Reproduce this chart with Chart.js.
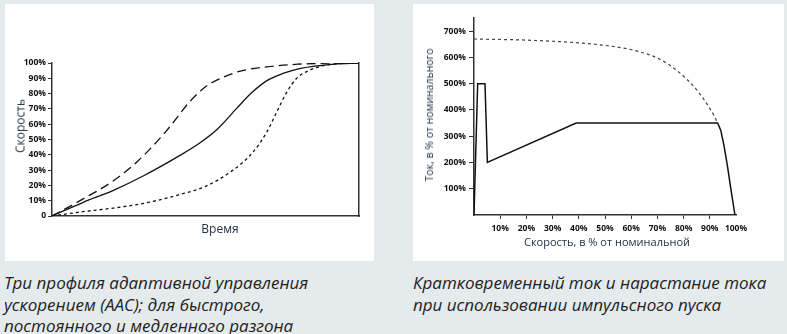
<!DOCTYPE html>
<html>
<head>
<meta charset="utf-8">
<script src="https://cdn.jsdelivr.net/npm/chart.js@4"></script>
<style>
  body { margin: 0; background: #e5eaed; }
  #page { position: relative; width: 787px; height: 334px; overflow: hidden; font-family: "Open Sans", sans-serif; }
  .panel { position: absolute; background: #fff; }
  .panel canvas { position: absolute; left: 0; top: 0; }
  .title { position: absolute; white-space: nowrap; color: #22324a; transform: translate(-50%, -50%); }
  .title.rot { transform: translate(-50%, -50%) rotate(-90deg); }
  .caption { position: absolute; font-family: "Liberation Sans Narrow", "Open Sans", sans-serif; font-style: italic;
             font-size: 17px; line-height: 21.5px; color: #222; }
</style>
</head>
<body>
<div id="page">
  <div class="panel" style="left:5px;top:4px;width:369px;height:257px"><canvas id="accel" width="369" height="257"></canvas></div>
  <div class="panel" style="left:413px;top:4px;width:371px;height:257px"><canvas id="pulse" width="371" height="257"></canvas></div>

  <div class="title rot" style="left:20px;top:126px;font-size:12px">Скорость</div>
  <div class="title" style="left:220px;top:228px;font-size:12px">Время</div>
  <div class="title rot" style="left:429px;top:115px;font-size:10.5px">Ток, в % от номинального</div>
  <div class="title" style="left:607px;top:241px;font-size:11px">Скорость, в % от номинальной</div>

  <div class="caption" style="left:4px;top:272px">Три профиля адаптивной управления<br>ускорением (AAC); для быстрого,<br>постоянного и медленного разгона</div>
  <div class="caption" style="left:413px;top:272px">Кратковременный ток и нарастание тока<br>при использовании импульсного пуска</div>
</div>
<script>
// профили разгона: время (% от полного) и скорость (%)
const fastTime = [0, 10, 20, 28, 37, 45, 50, 55, 61, 70, 80, 91, 100]
const fastSpeed = [0, 11, 23, 36, 55, 75, 84.5, 90, 94.5, 97.5, 99.2, 99.9, 100]
const midTime = [0, 10, 20, 30, 41, 48, 54, 60, 65, 70, 75, 81, 92, 100]
const midSpeed = [0, 8.8, 16.8, 26.5, 38.8, 47.5, 57, 70, 80.5, 88.5, 93, 96.5, 99.3, 100]
const slowTime = [0, 10, 20, 30, 41, 50, 59, 65.6, 70, 73.2, 76.5, 79.7, 84, 89.5, 95, 100]
const slowSpeed = [0, 2.8, 5.2, 8.3, 13.7, 19.4, 30, 42, 55, 68, 81, 90, 95.4, 98.7, 99.8, 100]
const speedTicks = [0, 10, 20, 30, 40, 50, 60, 70, 80, 90, 100]

// импульсный пуск: скорость (%) и ток (% от номинального)
const pulseSpeed = [0, 1.4, 4.2, 5.1, 39, 93, 94.2, 95.4, 96.7, 98, 99.6]
const pulseCurrent = [0, 500, 500, 200, 350, 350, 322, 265, 189, 101, 0]
const limitSpeed = [0, 22, 48, 60.6, 70.7, 78.3, 84.7, 88.5, 91.6, 93]
const limitCurrent = [670, 665, 648, 628, 594, 543, 480, 429, 379, 350]
const currentTicks = [100, 200, 300, 400, 500, 600, 700]
const pulseSpeedTicks = [10, 20, 30, 40, 50, 60, 70, 80, 90, 100]

const axisColor = '#333'
const tickFont = { family: 'Open Sans', size: 8.5, weight: '700' }

function pts(xs, ys) {
    return xs.map((x, i) => ({ x: x, y: ys[i] }))
}

function line(data, dash, color, extra) {
    return Object.assign({
        data: data,
        borderColor: color || '#111',
        borderWidth: 1.3,
        borderDash: dash,
        pointRadius: 0,
        fill: false
    }, extra || {})
}

new Chart(document.getElementById('accel'), {
    type: 'line',
    data: {
        datasets: [
            line(pts(fastTime, fastSpeed), [9, 5], '#111', { cubicInterpolationMode: 'monotone' }),
            line(pts(midTime, midSpeed), [], '#111', { cubicInterpolationMode: 'monotone' }),
            line(pts(slowTime, slowSpeed), [3, 3], '#111', { cubicInterpolationMode: 'monotone' })
        ]
    },
    options: {
        responsive: false,
        animation: false,
        layout: { padding: { top: 59, right: 15, bottom: 0, left: 0 } },
        plugins: { legend: { display: false }, tooltip: { enabled: false } },
        scales: {
            x: {
                type: 'linear', min: 0, max: 100,
                ticks: { display: false },
                grid: { display: false },
                border: { color: axisColor, width: 1.5 },
                afterFit: s => { s.height = 45 }
            },
            y: {
                min: 0, max: 100,
                afterBuildTicks: s => { s.ticks = speedTicks.map(v => ({ value: v })) },
                ticks: { color: '#111', font: tickFont, padding: 2, callback: v => v === 0 ? '0' : v + '%' },
                grid: { drawOnChartArea: false, tickLength: 4, color: axisColor, lineWidth: 1 },
                border: { color: axisColor, width: 1.5 },
                afterFit: s => { s.width = 47 }
            },
            y2: {
                position: 'right', min: 0, max: 100,
                ticks: { display: false },
                grid: { display: false },
                border: { color: axisColor, width: 1.5 },
                afterFit: s => { s.width = 0 }
            }
        }
    }
})

new Chart(document.getElementById('pulse'), {
    type: 'line',
    data: {
        datasets: [
            line(pts(limitSpeed, limitCurrent), [3, 3], '#444', { borderWidth: 1.2, cubicInterpolationMode: 'monotone' }),
            line(pts(pulseSpeed, pulseCurrent), [], '#111', { borderWidth: 1.5 })
        ]
    },
    options: {
        responsive: false,
        animation: false,
        layout: { padding: { top: 14, right: 48, bottom: 0, left: 0 } },
        plugins: { legend: { display: false }, tooltip: { enabled: false } },
        scales: {
            x: {
                type: 'linear', min: 0, max: 100,
                afterBuildTicks: s => { s.ticks = pulseSpeedTicks.map(v => ({ value: v })) },
                ticks: { color: '#111', font: tickFont, padding: 4, maxRotation: 0, callback: v => v + '%' },
                grid: {
                    drawOnChartArea: false, tickLength: 4, lineWidth: 1,
                    tickColor: c => c.tick && c.tick.value === 100 ? 'rgba(0,0,0,0)' : axisColor
                },
                border: { color: axisColor, width: 1.5 },
                afterFit: s => { s.height = 46 }
            },
            y: {
                min: 0, max: 750,
                afterBuildTicks: s => { s.ticks = currentTicks.map(v => ({ value: v })) },
                ticks: { color: '#111', font: tickFont, padding: 3, callback: v => v + '%' },
                grid: { drawOnChartArea: false, tickLength: 5, color: axisColor, lineWidth: 1 },
                border: { color: axisColor, width: 1.5 },
                afterFit: s => { s.width = 61 }
            }
        }
    }
})
</script>
</body>
</html>
